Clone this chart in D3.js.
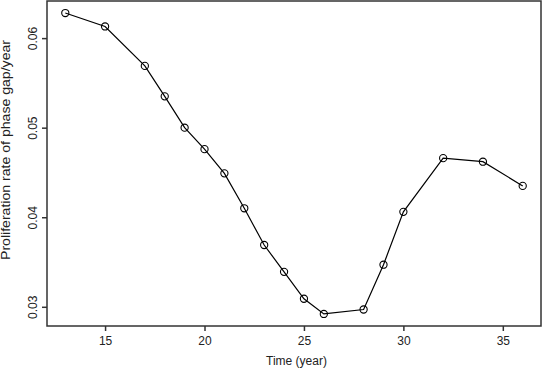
<!DOCTYPE html>
<html>
<head>
<meta charset="utf-8">
<script src="https://cdn.jsdelivr.net/npm/d3@7"></script>
<style>
	html, body { margin: 0; padding: 0; background: #fff; }
	svg { display: block; }
	text { font-family: "Liberation Sans", Arial, Helvetica, sans-serif; fill: #222; }
</style>
</head>
<body>
<div id="chart"></div>
<script>
// values
var years = [13, 15, 17, 18, 19, 20, 21, 22, 23, 24, 25, 26, 28, 29, 30, 32, 34, 36];
var rates = [0.0628, 0.0613, 0.0569, 0.0535, 0.0500, 0.0476, 0.0449, 0.0410, 0.0369, 0.0339,
	0.0309, 0.0292, 0.0297, 0.0347, 0.0406, 0.0466, 0.0462, 0.0435];
var xTicks = [15, 20, 25, 30, 35];
var yTicks = [0.03, 0.04, 0.05, 0.06];
var xTitle = "Time (year)";
var yTitle = "Proliferation rate of phase gap/year";

var width = 543,
	height = 368,
	plotLeft = 47,
	plotRight = 541,
	plotTop = 1,
	plotBottom = 326,
	axisColor = "#333";

// R style: pad the data range by 4% each side
function pad(ext) {
	var d = (ext[1] - ext[0]) * 0.04;
	return [ext[0] - d, ext[1] + d];
}

var x = d3.scaleLinear().domain(pad(d3.extent(years))).range([plotLeft, plotRight]);
var y = d3.scaleLinear().domain(pad(d3.extent(rates))).range([plotBottom, plotTop]);

var svg = d3.select("#chart").append("svg")
	.attr("width", width)
	.attr("height", height);

var data = years.map(function (t, i) {
	return { t: t, v: rates[i] };
});

// line
var line = d3.line()
	.x(function (d) { return x(d.t); })
	.y(function (d) { return y(d.v); });

svg.append("path")
	.datum(data)
	.attr("fill", "none")
	.attr("stroke", "#000")
	.attr("stroke-width", 1.2)
	.attr("d", line);

// open circles, line shows through (type="o")
svg.append("g")
	.selectAll("circle")
	.data(data)
	.join("circle")
	.attr("cx", function (d) { return x(d.t); })
	.attr("cy", function (d) { return y(d.v); })
	.attr("r", 3.6)
	.attr("fill", "none")
	.attr("stroke", "#000")
	.attr("stroke-width", 1.1);

// box
svg.append("rect")
	.attr("x", plotLeft)
	.attr("y", plotTop)
	.attr("width", plotRight - plotLeft)
	.attr("height", plotBottom - plotTop)
	.attr("fill", "none")
	.attr("stroke", axisColor)
	.attr("stroke-width", 1.5);

// x axis
var xAxis = svg.append("g")
	.attr("transform", "translate(0," + plotBottom + ")")
	.call(d3.axisBottom(x).tickValues(xTicks).tickSize(5).tickPadding(5).tickFormat(d3.format("d")));
xAxis.select(".domain").remove();
xAxis.selectAll(".tick line").attr("stroke", axisColor).attr("stroke-width", 1.5);
xAxis.selectAll(".tick text")
	.style("font-family", "'Liberation Sans', Arial, sans-serif")
	.style("font-size", "12px")
	.attr("fill", "#222");

// y axis, labels rotated like R's default
var yAxis = svg.append("g")
	.attr("transform", "translate(" + plotLeft + ",0)")
	.call(d3.axisLeft(y).tickValues(yTicks).tickSize(5).tickFormat(d3.format(".2f")));
yAxis.select(".domain").remove();
yAxis.selectAll(".tick line").attr("stroke", axisColor).attr("stroke-width", 1.5);
yAxis.selectAll(".tick text")
	.attr("x", null)
	.attr("dy", null)
	.attr("transform", "translate(-10,0) rotate(-90)")
	.attr("text-anchor", "middle")
	.style("font-family", "'Liberation Sans', Arial, sans-serif")
	.style("font-size", "12px")
	.attr("fill", "#222");

// titles
svg.append("text")
	.attr("x", 296.5)
	.attr("y", 365)
	.attr("text-anchor", "middle")
	.attr("fill", "#222")
	.style("font-size", "12px")
	.text(xTitle);

svg.append("text")
	.attr("transform", "translate(10,150) rotate(-90)")
	.attr("text-anchor", "middle")
	.attr("textLength", 220)
	.attr("lengthAdjust", "spacingAndGlyphs")
	.style("font-size", "12px")
	.text(yTitle);
</script>
</body>
</html>
